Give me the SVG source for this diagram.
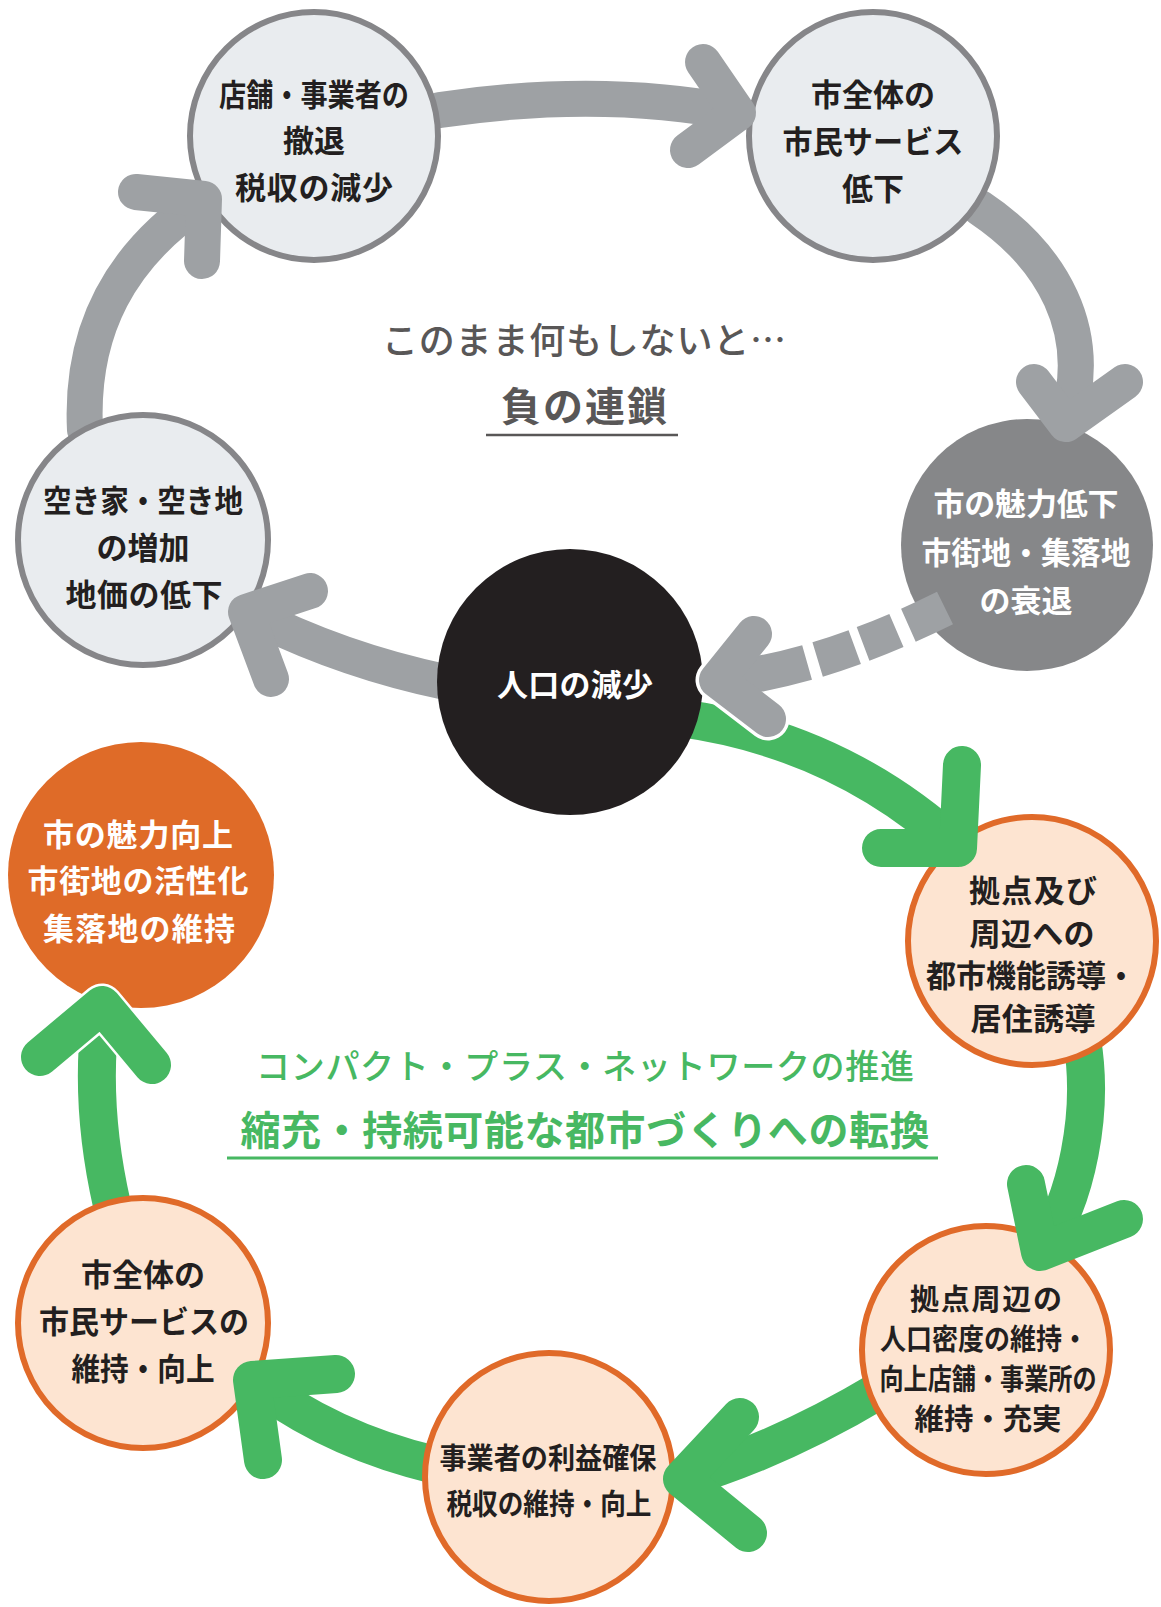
<svg xmlns="http://www.w3.org/2000/svg" width="1161" height="1607" viewBox="0 0 1161 1607">
<style>
  .gs { fill: none; stroke: #9ea1a4; stroke-width: 36; stroke-linecap: round; stroke-linejoin: round; }
  .gsb { fill: none; stroke: #9ea1a4; stroke-width: 36; stroke-linecap: butt; }
  .gr { fill: none; stroke: #47b862; stroke-width: 38; stroke-linecap: round; stroke-linejoin: round; }
  .wo { fill: none; stroke: #ffffff; stroke-width: 43; stroke-linecap: round; stroke-linejoin: round; }
  .lg { fill: #e9ecef; stroke: #868689; stroke-width: 6; }
  .lo { fill: #fde4d1; stroke: #e06a29; stroke-width: 6; }
  text { font-family: "Noto Sans CJK JP", "Noto Sans", sans-serif; text-anchor: middle; dominant-baseline: central; }
  .t { font-size: 31px; font-weight: 700; fill: #231f20; }
  .tw { font-size: 31px; font-weight: 700; fill: #ffffff; }
  .t8 { font-size: 29px; font-weight: 700; fill: #231f20; }
</style>

<g id="connectors">
  <path class="gs" d="M 440,110 Q 600,86 738,113"/>
  <path class="gs" d="M 980,208 C 1050,255 1097,330 1066,423"/>
  <path class="gs" d="M 445,682 Q 340,660 246,612"/>
  <path class="gs" d="M 85,430 C 80,330 120,255 204,199"/>
  <path class="gr" d="M 680,718 Q 840,740 958,848"/>
  <path class="gr" d="M 1082,1040 C 1094,1110 1078,1200 1040,1252"/>
  <path class="gr" d="M 880,1390 Q 780,1450 682,1479"/>
  <path class="gr" d="M 435,1465 Q 330,1440 252,1380"/>
  <path class="gr" d="M 112,1205 Q 88,1100 102,1005"/>
</g>

<g id="node-shop">
  <circle class="lg" cx="314" cy="136" r="124"/>
  <text class="t" x="314" y="92" textLength="190" lengthAdjust="spacingAndGlyphs">店舗・事業者の</text>
  <text class="t" x="314" y="138">撤退</text>
  <text class="t" x="314" y="185" textLength="158">税収の減少</text>
</g>
<g id="node-service">
  <circle class="lg" cx="873" cy="136" r="124"/>
  <text class="t" x="873" y="92">市全体の</text>
  <text class="t" x="873" y="139" textLength="181" lengthAdjust="spacingAndGlyphs">市民サービス</text>
  <text class="t" x="873" y="186">低下</text>
</g>
<g id="node-appeal-down">
  <circle cx="1027" cy="545" r="126" fill="#868789"/>
  <text class="tw" x="1026" y="501" textLength="185">市の魅力低下</text>
  <text class="tw" x="1026" y="550" textLength="209" lengthAdjust="spacingAndGlyphs">市街地・集落地</text>
  <text class="tw" x="1026" y="598">の衰退</text>
</g>
<g id="node-vacant">
  <circle class="lg" cx="143" cy="540" r="125"/>
  <text class="t" x="143" y="498" textLength="200" lengthAdjust="spacingAndGlyphs">空き家・空き地</text>
  <text class="t" x="143" y="545">の増加</text>
  <text class="t" x="144" y="592" textLength="157">地価の低下</text>
</g>

<g id="node-appeal-up">
  <circle cx="141" cy="875" r="133" fill="#df6b28"/>
  <text class="tw" x="138" y="832" textLength="190">市の魅力向上</text>
  <text class="tw" x="138" y="878" textLength="221">市街地の活性化</text>
  <text class="tw" x="139" y="926" textLength="192">集落地の維持</text>
</g>
<g id="node-hub">
  <circle class="lo" cx="1032" cy="941" r="124"/>
  <text class="t" x="1033" y="888" textLength="128">拠点及び</text>
  <text class="t" x="1032" y="931" textLength="125">周辺への</text>
  <text class="t" x="1031" y="973" textLength="210" lengthAdjust="spacingAndGlyphs">都市機能誘導・</text>
  <text class="t" x="1033" y="1016" textLength="125">居住誘導</text>
</g>
<g id="node-density">
  <circle class="lo" cx="986" cy="1350" r="124"/>
  <text class="t8" x="986" y="1297" textLength="152">拠点周辺の</text>
  <text class="t8" x="984" y="1337" textLength="208" lengthAdjust="spacingAndGlyphs">人口密度の維持・</text>
  <text class="t8" x="988" y="1377" textLength="217" lengthAdjust="spacingAndGlyphs">向上店舗・事業所の</text>
  <text class="t8" x="988" y="1417" textLength="147" lengthAdjust="spacingAndGlyphs">維持・充実</text>
</g>
<g id="node-profit">
  <circle class="lo" cx="549" cy="1477" r="124"/>
  <text class="t8" x="548" y="1456" textLength="217" lengthAdjust="spacingAndGlyphs">事業者の利益確保</text>
  <text class="t8" x="549" y="1502" textLength="205" lengthAdjust="spacingAndGlyphs">税収の維持・向上</text>
</g>
<g id="node-service-keep">
  <circle class="lo" cx="143" cy="1323" r="125"/>
  <text class="t" x="143" y="1272">市全体の</text>
  <text class="t" x="144" y="1319" textLength="210" lengthAdjust="spacingAndGlyphs">市民サービスの</text>
  <text class="t" x="143" y="1366" textLength="143" lengthAdjust="spacingAndGlyphs">維持・向上</text>
</g>

<g id="node-population">
  <circle cx="570" cy="682" r="133" fill="#231f20"/>
  <text class="tw" x="575" y="682" textLength="156">人口の減少</text>
</g>

<g id="connector-heads">
  <path class="gs" d="M 703,62 L 738,113 L 688,150"/>
  <path class="gs" d="M 1034,382 L 1066,424 L 1125,382"/>
  <path class="gs" d="M 310,591 L 246,612 L 271,679"/>
  <path class="gs" d="M 136,192 L 204,199 L 202,261"/>
  <path class="wo" d="M 754,634 L 717,680 L 768,719"/>
  <path class="gsb" d="M 717,680 Q 820,670 945,608" stroke-dasharray="92 11 39 9 36 13 200"/>
  <path class="gs" d="M 754,634 L 717,680 L 768,719"/>
  <path class="gr" d="M 962,765 L 958,848 L 881,848"/>
  <path class="gr" d="M 1026,1184 L 1040,1252 L 1124,1219"/>
  <path class="gr" d="M 740,1417 L 682,1479 L 748,1533"/>
  <path class="gr" d="M 336,1374 L 252,1380 L 263,1460"/>
  <path class="wo" d="M 40,1057 L 102,1005 L 152,1065"/>
  <path class="gr" d="M 40,1057 L 102,1005 L 152,1065"/>
</g>

<g id="caption-negative">
  <text x="584" y="338" font-size="36" font-weight="500" fill="#595757" textLength="404">このまま何もしないと…</text>
  <text x="584" y="404" font-size="40" font-weight="700" fill="#595757" textLength="166">負の連鎖</text>
  <line x1="486" y1="435" x2="678" y2="435" stroke="#595757" stroke-width="2.5"/>
</g>
<g id="caption-positive">
  <text x="585" y="1064" font-size="34" fill="#47b862" font-weight="500" textLength="658">コンパクト・プラス・ネットワークの推進</text>
  <text x="585" y="1128" font-size="40" fill="#47b862" font-weight="700" textLength="689">縮充・持続可能な都市づくりへの転換</text>
  <line x1="227" y1="1158" x2="938" y2="1158" stroke="#47b862" stroke-width="3"/>
</g>
</svg>
